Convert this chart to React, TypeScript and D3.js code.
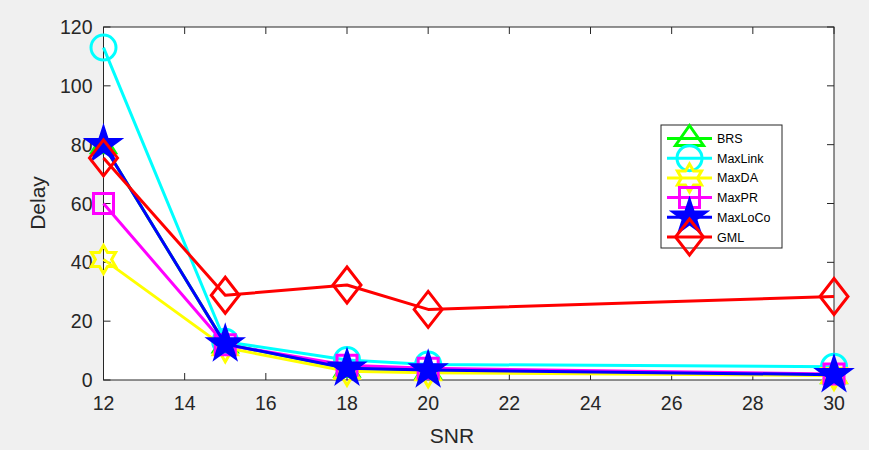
import React, { useEffect } from "react";
import * as d3 from "d3";

const snr = [12, 15, 18, 20, 30];
const seriesNames = ["BRS", "MaxLink", "MaxDA", "MaxPR", "MaxLoCo", "GML"];
const brs = [80, 12.2, 4, 3.4, 1.8];
const maxLink = [113, 13, 6.8, 5.3, 4.5];
const maxDA = [41, 11, 3, 2.5, 1.5];
const maxPR = [60, 12, 5, 4, 2];
const maxLoCo = [80, 12.2, 4, 3.4, 1.8];
const gml = [75.5, 28.8, 32.3, 24, 28.4];
const xTicks = [12, 14, 16, 18, 20, 22, 24, 26, 28, 30];
const yTicks = [0, 20, 40, 60, 80, 100, 120];

const colors = ["#00ff00", "#00ffff", "#ffff00", "#ff00ff", "#0000ff", "#ff0000"];
const markers = ["triangle", "circle", "hexagram", "square", "pentagram", "diamond"];
const data = [brs, maxLink, maxDA, maxPR, maxLoCo, gml];

function starPath(n: number, R: number, r: number) {
  const pts: [number, number][] = [];
  for (let i = 0; i < 2 * n; i++) {
    const a = -Math.PI / 2 + (i * Math.PI) / n;
    const rad = i % 2 === 0 ? R : r;
    pts.push([rad * Math.cos(a), rad * Math.sin(a)]);
  }
  return "M" + pts.map((p) => p[0].toFixed(2) + "," + p[1].toFixed(2)).join("L") + "Z";
}

function markerPath(m: string) {
  switch (m) {
    case "triangle":
      return "M0,-11L12,8L-12,8Z";
    case "circle":
      return "M12.5,0A12.5,12.5 0 1,1 -12.5,0A12.5,12.5 0 1,1 12.5,0Z";
    case "hexagram":
      return starPath(6, 14, 14 / Math.sqrt(3));
    case "square":
      return "M-10,-10L10,-10L10,10L-10,10Z";
    case "pentagram":
      return starPath(5, 17, 17 * 0.382);
    case "diamond":
      return "M0,-18L14,0L0,18L-14,0Z";
  }
  return "";
}

export default function App() {
  useEffect(() => {
    document.body.style.margin = "0";
  }, []);
  const W = 869, H = 450;
  const x = d3.scaleLinear().domain([12, 30]).range([103.5, 834]);
  const y = d3.scaleLinear().domain([0, 120]).range([380, 27]);
  const line = d3.line<number>().x((_, i) => x(snr[i])).y((d) => y(d));
  const axisColor = "#262626";
  const font = "'Liberation Sans', Arial, Helvetica, sans-serif";
  const legX = 661, legY = 125, legW = 121, legH = 123;
  return (
    <svg width={W} height={H} style={{ display: "block" }} fontFamily={font}>
      <rect x={0} y={0} width={W} height={H} fill="#f0f0f0" />
      <rect x={x(12)} y={y(120)} width={x(30) - x(12)} height={y(0) - y(120)} fill="#ffffff" />
      {xTicks.map((t) => (
        <g key={"xt" + t}>
          <line x1={x(t)} x2={x(t)} y1={y(0)} y2={y(0) - 7} stroke={axisColor} strokeWidth={1} />
          <line x1={x(t)} x2={x(t)} y1={y(120)} y2={y(120) + 7} stroke={axisColor} strokeWidth={1} />
          <text x={x(t)} y={410} fontSize={19.5} textAnchor="middle" fill={axisColor}>{t}</text>
        </g>
      ))}
      {yTicks.map((t) => (
        <g key={"yt" + t}>
          <line x1={x(12)} x2={x(12) + 7} y1={y(t)} y2={y(t)} stroke={axisColor} strokeWidth={1} />
          <line x1={x(30)} x2={x(30) - 7} y1={y(t)} y2={y(t)} stroke={axisColor} strokeWidth={1} />
          <text x={x(12) - 11} y={y(t) + 7} fontSize={19.5} textAnchor="end" fill={axisColor}>{t}</text>
        </g>
      ))}
      <rect x={x(12)} y={y(120)} width={x(30) - x(12)} height={y(0) - y(120)} fill="none" stroke={axisColor} strokeWidth={1} />
      {data.map((vals, si) => (
        <g key={"s" + si}>
          <path d={line(vals) || ""} fill="none" stroke={colors[si]} strokeWidth={3} strokeLinejoin="round" />
          {vals.map((v, i) => (
            <path key={i} d={markerPath(markers[si])} transform={`translate(${x(snr[i])},${y(v)})`}
              fill={markers[si] === "pentagram" ? colors[si] : "none"} stroke={colors[si]} strokeWidth={3} strokeLinejoin="miter" />
          ))}
        </g>
      ))}
      <text x={452} y={443} fontSize={21} textAnchor="middle" fill={axisColor}>SNR</text>
      <text transform="translate(45,203) rotate(-90)" fontSize={21} textAnchor="middle" fill={axisColor}>Delay</text>
      <rect x={legX} y={legY} width={legW} height={legH} fill="#ffffff" stroke={axisColor} strokeWidth={1} />
      {seriesNames.map((n, i) => {
        const cy = 138.5 + i * 19.7;
        return (
          <g key={"l" + n}>
            <line x1={667} x2={712} y1={cy} y2={cy} stroke={colors[i]} strokeWidth={3} />
            <path d={i === 0 ? "M0,-13L14,7L-14,7Z" : markerPath(markers[i])} transform={`translate(689.5,${cy})`}
              fill={markers[i] === "pentagram" ? colors[i] : "none"} stroke={colors[i]} strokeWidth={3} />
            <text x={717} y={cy + 4.5} fontSize={12.5} fill="#000000">{n}</text>
          </g>
        );
      })}
    </svg>
  );
}
